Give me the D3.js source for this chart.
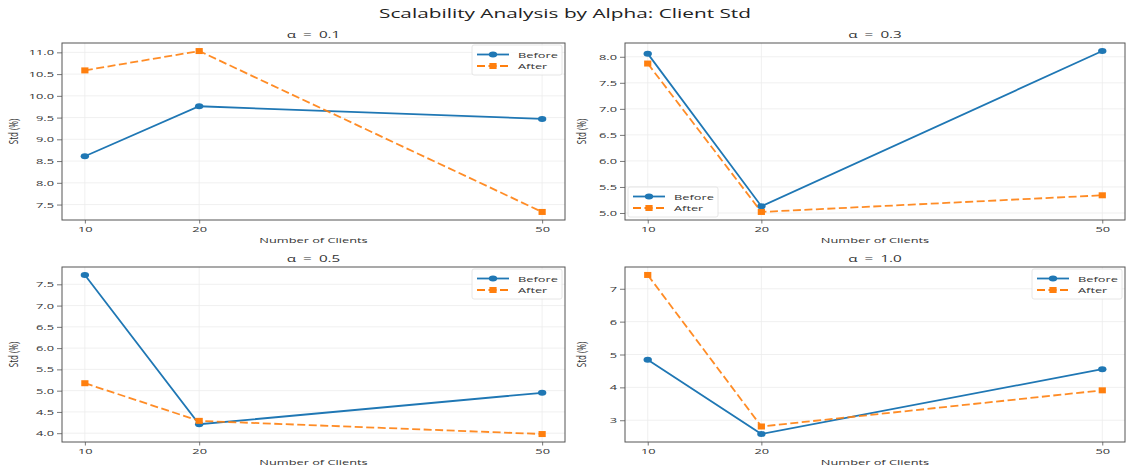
<!DOCTYPE html>
<html><head><meta charset="utf-8">
<script src="https://cdn.jsdelivr.net/npm/d3@7"></script>
<style>body{margin:0;background:#fff;} svg{display:block;} text{font-family:"Open Sans","Noto Sans",sans-serif;fill:#333;}</style>
</head><body><svg id="c" width="1130" height="472"></svg>
<script>
const clients = [10, 20, 50];
const panelTitles = ["α = 0.1", "α = 0.3", "α = 0.5", "α = 1.0"];
const beforeVals = [
  [8.61, 9.76, 9.47],
  [8.06, 5.13, 8.11],
  [7.72, 4.21, 4.95],
  [4.84, 2.58, 4.555]
];
const afterVals = [
  [10.585, 11.03, 7.33],
  [7.87, 5.02, 5.34],
  [5.175, 4.29, 3.98],
  [7.42, 2.81, 3.91]
];
const yTicks = [
  [7.5, 8.0, 8.5, 9.0, 9.5, 10.0, 10.5, 11.0],
  [5.0, 5.5, 6.0, 6.5, 7.0, 7.5, 8.0],
  [4.0, 4.5, 5.0, 5.5, 6.0, 6.5, 7.0, 7.5],
  [3, 4, 5, 6, 7]
];
const yFmt = [".1f", ".1f", ".1f", "d"];
const legendPos = ["ur", "ll", "ur", "ur"];
const seriesNames = ["Before", "After"];
const colors = ["#1f77b4", "#ff7f0e"];

const SX = 1.6; // horizontal stretch of the picture
function stretch(sel, extra) {
  sel.each(function () {
    const t = d3.select(this);
    const x = +t.attr("x") || 0, y = +t.attr("y") || 0;
    const dy = t.attr("dy");
    t.attr("x", 0).attr("y", 0)
      .attr("transform", `translate(${x},${y})${extra || ""} scale(${SX},1)`);
    if (dy) t.attr("dy", dy);
  });
}

const svg = d3.select("#c");
svg.append("text").attr("x", 565).attr("y", 18).attr("text-anchor", "middle")
  .style("font-size", "13px").style("fill", "#222").text("Scalability Analysis by Alpha: Client Std")
  .call(stretch);

const boxes = [
  {x0: 62, x1: 565, y0: 43, y1: 220},
  {x0: 625, x1: 1125, y0: 43, y1: 220},
  {x0: 62, x1: 565, y0: 267, y1: 442},
  {x0: 625, x1: 1125, y0: 267, y1: 442}
];

boxes.forEach((b, i) => {
  const g = svg.append("g");
  const all = beforeVals[i].concat(afterVals[i]);
  const mn = d3.min(all), mx = d3.max(all), pad = (mx - mn) * 0.05;
  const x = d3.scaleLinear().domain([8, 52]).range([b.x0, b.x1]);
  const y = d3.scaleLinear().domain([mn - pad, mx + pad]).range([b.y1, b.y0]);

  // grid
  g.selectAll(".gy").data(yTicks[i]).join("line")
    .attr("x1", b.x0).attr("x2", b.x1).attr("y1", d => y(d)).attr("y2", d => y(d))
    .attr("stroke", "#ececec").attr("stroke-width", 0.8);
  g.selectAll(".gx").data(clients).join("line")
    .attr("y1", b.y0).attr("y2", b.y1).attr("x1", d => x(d)).attr("x2", d => x(d))
    .attr("stroke", "#ececec").attr("stroke-width", 0.8);

  // axes
  const xa = g.append("g").attr("transform", `translate(0,${b.y1})`)
    .call(d3.axisBottom(x).tickValues(clients).tickSize(3.5).tickPadding(2.5));
  const ya = g.append("g").attr("transform", `translate(${b.x0},0)`)
    .call(d3.axisLeft(y).tickValues(yTicks[i]).tickFormat(d3.format(yFmt[i])).tickSize(5).tickPadding(3));
  [xa, ya].forEach(a => {
    a.select(".domain").remove();
    a.selectAll("line").attr("stroke", "#555").attr("stroke-width", 0.8);
    a.selectAll("text").style("font-size", "8px").style("fill", "#333")
      .style("font-family", '"Open Sans",sans-serif').call(stretch);
  });
  g.append("rect").attr("x", b.x0).attr("y", b.y0).attr("width", b.x1 - b.x0).attr("height", b.y1 - b.y0)
    .attr("fill", "none").attr("stroke", "#555").attr("stroke-width", 1);

  // labels
  g.append("text").attr("x", (b.x0 + b.x1) / 2).attr("y", b.y1 + 23).attr("text-anchor", "middle")
    .style("font-size", "8px").text("Number of Clients").call(stretch);
  // rotated label: stretched along screen x means thickness, so compress along text
  g.append("text").attr("transform", `translate(${b.x0 - (i % 2 ? 43 : 48)},${(b.y0 + b.y1) / 2}) rotate(-90) scale(1,${SX})`)
    .attr("text-anchor", "middle").attr("dy", "0.35em").style("font-size", "8px").text("Std (%)");
  g.append("text").attr("x", (b.x0 + b.x1) / 2).attr("y", b.y0 - 5).attr("text-anchor", "middle")
    .style("font-size", "9.5px").style("word-spacing", "2px").text(panelTitles[i]).call(stretch);

  const line = d3.line().x((d, j) => x(clients[j])).y(d => y(d));
  // Before
  g.append("path").datum(beforeVals[i]).attr("d", line).attr("fill", "none")
    .attr("stroke", colors[0]).attr("stroke-width", 1.8);
  g.selectAll(".pb").data(beforeVals[i]).join("ellipse")
    .attr("cx", (d, j) => x(clients[j])).attr("cy", d => y(d)).attr("rx", 4.2).attr("ry", 3).attr("fill", colors[0]);
  // After
  g.append("path").datum(afterVals[i]).attr("d", line).attr("fill", "none")
    .attr("stroke", colors[1]).attr("stroke-width", 1.8).attr("stroke-dasharray", "8,3.5").attr("stroke-opacity", 0.9);
  g.selectAll(".pa").data(afterVals[i]).join("rect")
    .attr("x", (d, j) => x(clients[j]) - 3.6).attr("y", d => y(d) - 3)
    .attr("width", 7.2).attr("height", 6).attr("fill", colors[1]);

  // legend
  const lw = 90, lh = 30;
  const lx = legendPos[i] === "ur" ? b.x1 - lw - 3 : b.x0 + 3;
  const ly = legendPos[i] === "ur" ? b.y0 + 2 : b.y1 - lh - 3;
  const lg = g.append("g").attr("transform", `translate(${lx},${ly})`);
  lg.append("rect").attr("width", lw).attr("height", lh).attr("rx", 2)
    .attr("fill", "#fff").attr("fill-opacity", 0.8).attr("stroke", "#e0e0e0").attr("stroke-width", 0.8);
  seriesNames.forEach((name, k) => {
    const yy = 9.5 + k * 11.5;
    lg.append("line").attr("x1", 5).attr("x2", 37).attr("y1", yy).attr("y2", yy)
      .attr("stroke", colors[k]).attr("stroke-width", 1.8).attr("stroke-dasharray", k ? "8,3.5" : null);
    if (k === 0) lg.append("ellipse").attr("cx", 21).attr("cy", yy).attr("rx", 4.2).attr("ry", 3).attr("fill", colors[k]);
    else lg.append("rect").attr("x", 17.4).attr("y", yy - 3).attr("width", 7.2).attr("height", 6).attr("fill", colors[k]);
    lg.append("text").attr("x", 46).attr("y", yy + 3).style("font-size", "8px").text(name).call(stretch);
  });
});
</script></body></html>
